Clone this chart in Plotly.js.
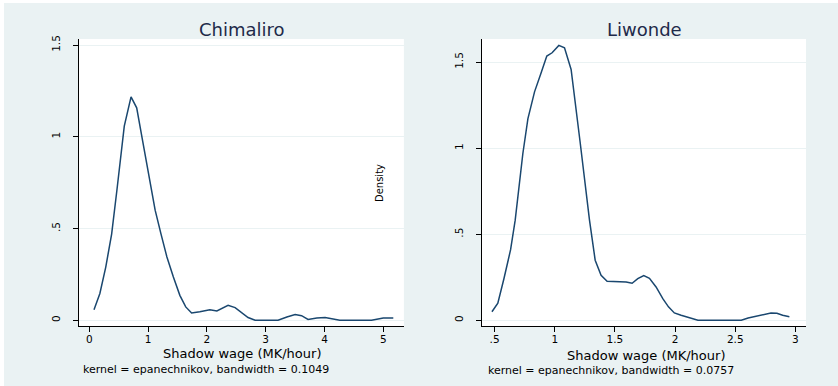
<!DOCTYPE html>
<html>
<head>
<meta charset="utf-8">
<script src="https://cdn.plot.ly/plotly-3.0.1.min.js"></script>
<style>
html,body{margin:0;padding:0;background:#ffffff;}
#chart{position:absolute;left:4px;top:3px;width:834px;height:383px;}
</style>
</head>
<body>
<div id="chart"></div>
<script>
// Chimaliro kernel density
const chimaliroX = [0.08,0.18,0.28,0.38,0.47,0.595,0.71,0.806,0.90,1.00,1.09,1.12,1.22,1.32,1.43,1.54,1.64,1.74,1.88,2.05,2.17,2.36,2.48,2.60,2.70,2.82,3.00,3.21,3.36,3.50,3.61,3.72,3.87,4.01,4.26,4.50,4.80,5.00,5.17];
const chimaliroY = [0.058,0.146,0.29,0.47,0.71,1.058,1.218,1.158,0.99,0.81,0.655,0.60,0.47,0.345,0.236,0.136,0.073,0.04,0.047,0.058,0.051,0.082,0.069,0.04,0.015,0.0,0.0,0.0,0.018,0.031,0.025,0.005,0.013,0.015,0.0,0.0,0.0,0.013,0.013];
// Liwonde kernel density
const liwondeX = [0.478,0.527,0.577,0.633,0.671,0.70,0.735,0.777,0.832,0.887,0.934,0.978,1.034,1.081,1.136,1.21,1.256,1.289,1.336,1.385,1.435,1.538,1.593,1.643,1.690,1.740,1.787,1.842,1.898,1.945,1.994,2.05,2.10,2.19,2.30,2.45,2.55,2.607,2.70,2.797,2.846,2.894,2.95];
const liwondeY = [0.05,0.10,0.24,0.41,0.58,0.756,0.969,1.172,1.327,1.438,1.535,1.554,1.597,1.583,1.457,1.04,0.756,0.58,0.349,0.262,0.227,0.225,0.223,0.215,0.242,0.26,0.244,0.194,0.126,0.078,0.043,0.029,0.019,0.0,0.0,0.0,0.0,0.013,0.027,0.043,0.041,0.029,0.021];

const leftTicks = [0,1,2,3,4,5];
const leftTickText = ['0','1','2','3','4','5'];
const rightTicks = [0.5,1,1.5,2,2.5,3];
const rightTickText = ['.5','1','1.5','2','2.5','3'];
const yTicks = [0,0.5,1,1.5];
const yTickText = ['0','.5','1','1.5'];

const titles = ['Chimaliro','Liwonde'];
const xTitle = 'Shadow wage (MK/hour)';
const notes = ['kernel = epanechnikov, bandwidth = 0.1049','kernel = epanechnikov, bandwidth = 0.0757'];
const yTitle = 'Density';

const lineColor = 'rgb(26,71,111)';
const bg = 'rgb(234,242,243)';
const font = 'DejaVu Sans, Arial, sans-serif';

const traces = [
  {x: chimaliroX, y: chimaliroY, type:'scatter', mode:'lines', xaxis:'x', yaxis:'y',
   line:{color:lineColor, width:1.5}, hoverinfo:'skip'},
  {x: liwondeX, y: liwondeY, type:'scatter', mode:'lines', xaxis:'x2', yaxis:'y2',
   line:{color:lineColor, width:1.5}, hoverinfo:'skip'}
];

const xCommon = {showline:true, linecolor:'#000', linewidth:1, ticks:'outside', ticklen:5,
  tickcolor:'#000', showgrid:false, zeroline:false, ticklabelstandoff:-2,
  tickfont:{family:font, size:10.5, color:'#000'}};
const yCommon = {showline:true, linecolor:'#000', linewidth:1, ticks:'outside', ticklen:5,
  tickcolor:'#000', showgrid:true, gridcolor:bg, gridwidth:1, zeroline:false,
  tickangle:-90, ticklabelstandoff:9, tickfont:{family:font, size:10.5, color:'#000'},
  tickmode:'array', tickvals:yTicks, ticktext:yTickText};

const layout = {
  width:834, height:383,
  margin:{l:75, r:31.7, t:36, b:60.3},
  paper_bgcolor:bg, plot_bgcolor:'#ffffff',
  showlegend:false,
  xaxis: Object.assign({}, xCommon, {domain:[0,0.4469], range:[-0.175,5.35], tickmode:'array', tickvals:leftTicks, ticktext:leftTickText, anchor:'y'}),
  yaxis: Object.assign({}, yCommon, {domain:[0,1], range:[-0.031,1.533], anchor:'x'}),
  xaxis2: Object.assign({}, xCommon, {domain:[0.5541,1], range:[0.394,3.088], tickmode:'array', tickvals:rightTicks, ticktext:rightTickText, anchor:'y2'}),
  yaxis2: Object.assign({}, yCommon, {domain:[0,1], range:[-0.033,1.634], anchor:'x2'}),
  annotations:[
    {text:titles[0], xref:'paper', yref:'paper', x:0.2237, y:1.0314, xanchor:'center', yanchor:'middle', showarrow:false, font:{family:font, size:18, color:'rgb(30,42,74)'}},
    {text:titles[1], xref:'paper', yref:'paper', x:0.7778, y:1.0314, xanchor:'center', yanchor:'middle', showarrow:false, font:{family:font, size:18, color:'rgb(30,42,74)'}},
    {text:xTitle, xref:'paper', yref:'paper', x:0.2237, y:-0.0975, xanchor:'center', yanchor:'middle', showarrow:false, font:{family:font, size:13, color:'#000'}},
    {text:xTitle, xref:'paper', yref:'paper', x:0.78, y:-0.1025, xanchor:'center', yanchor:'middle', showarrow:false, font:{family:font, size:13, color:'#000'}},
    {text:notes[0], xref:'paper', yref:'paper', x:0.1746, y:-0.153, xanchor:'center', yanchor:'middle', showarrow:false, font:{family:font, size:11, color:'#000'}},
    {text:notes[1], xref:'paper', yref:'paper', x:0.7315, y:-0.1565, xanchor:'center', yanchor:'middle', showarrow:false, font:{family:font, size:11, color:'#000'}},
    {text:yTitle, xref:'paper', yref:'paper', x:0.4125, y:0.4977, xanchor:'center', yanchor:'middle', textangle:-90, showarrow:false, font:{family:font, size:10, color:'#000'}}
  ]
};

Plotly.newPlot('chart', traces, layout, {displayModeBar:false, staticPlot:true});
</script>
</body>
</html>
